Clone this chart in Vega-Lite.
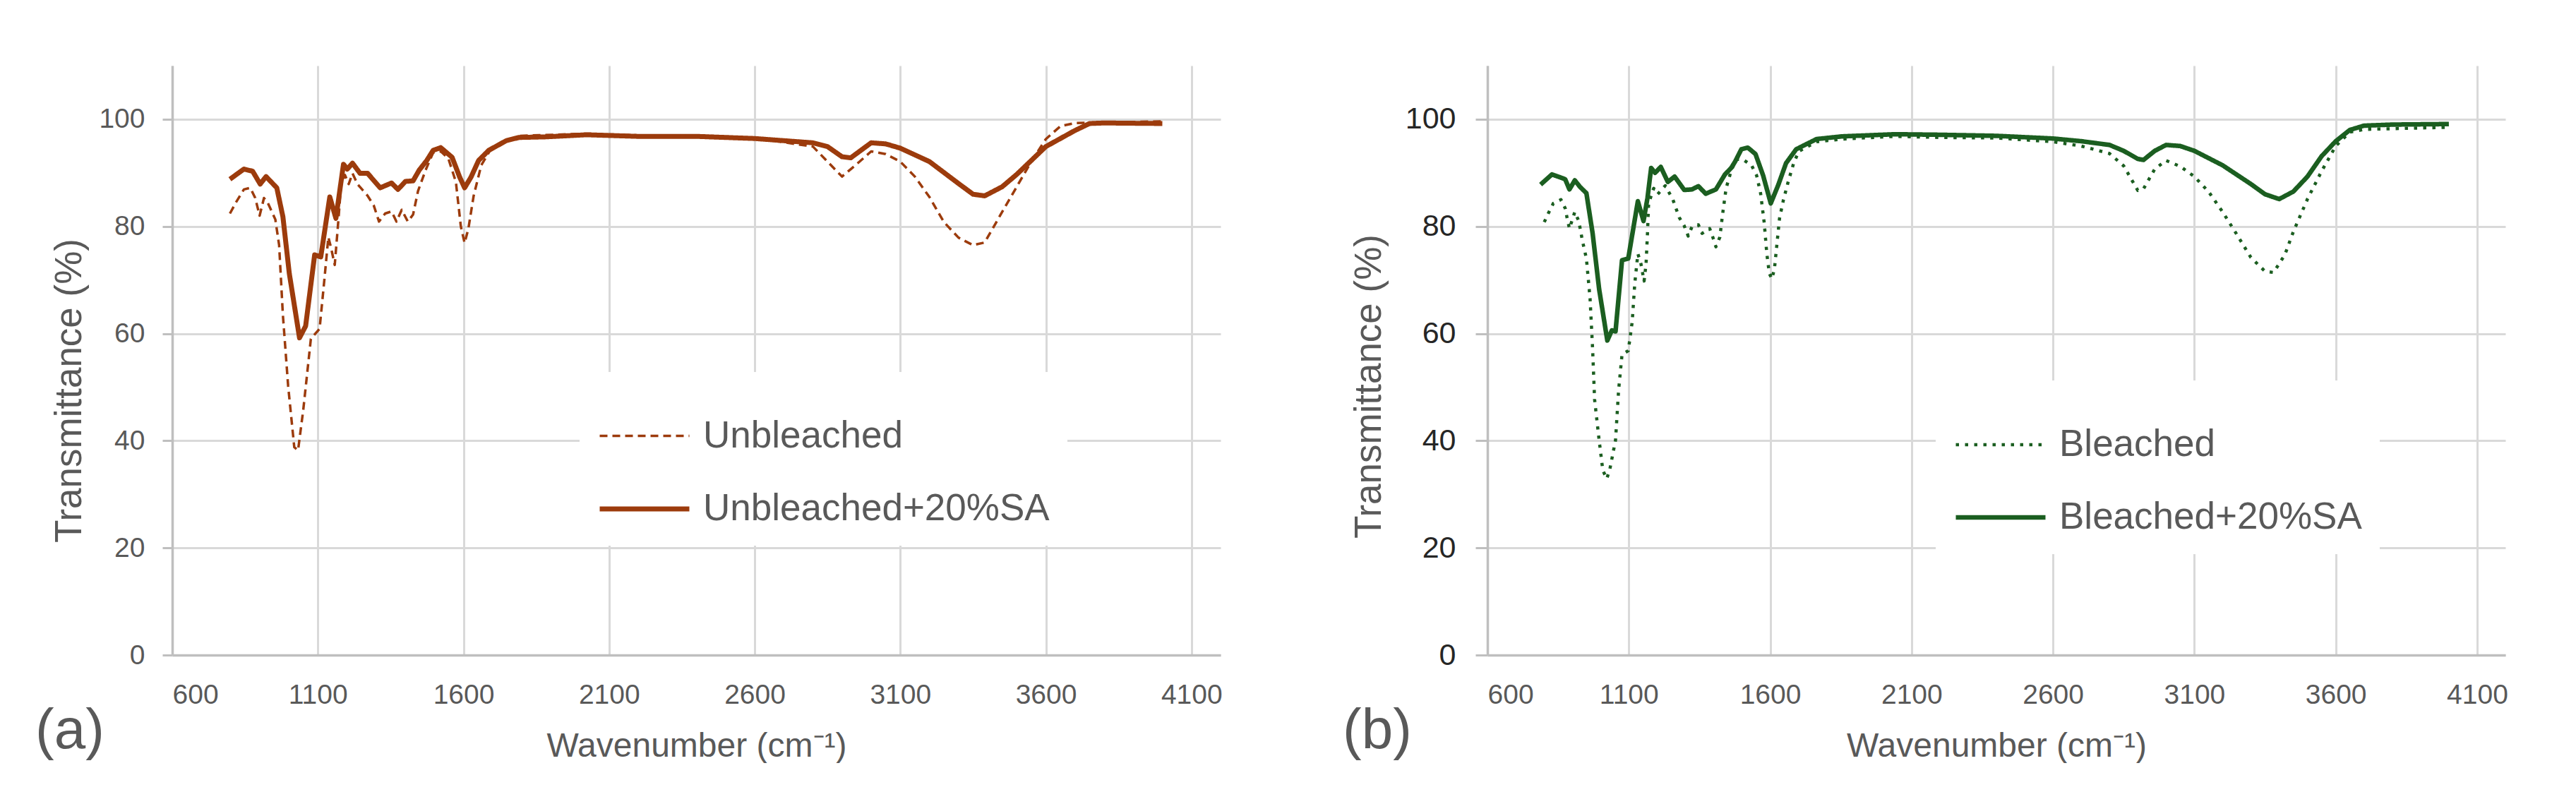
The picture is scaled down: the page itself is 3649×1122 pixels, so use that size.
{
  "$schema": "https://vega.github.io/schema/vega-lite/v6.json",
  "background": "white",
  "padding": {"left": 50, "top": 93, "right": 0, "bottom": 0},
  "autosize": {"type": "pad"},
  "spacing": 170,
  "resolve": {
    "scale": {"strokeDash": "independent", "strokeWidth": "independent"},
    "legend": {"strokeDash": "independent", "strokeWidth": "independent"}
  },
  "config": {
    "font": "Liberation Sans",
    "view": {"stroke": null},
    "axis": {
      "gridColor": "#d9d9d9",
      "gridWidth": 3,
      "domainColor": "#bfbfbf",
      "domainWidth": 3.5,
      "tickColor": "#bfbfbf",
      "tickWidth": 3,
      "labelColor": "#595959",
      "titleColor": "#595959",
      "labelFont": "Liberation Sans",
      "titleFont": "Liberation Sans",
      "titleFontWeight": "normal",
      "labelFontSize": 39,
      "format": "d"
    },
    "legend": {
      "labelFont": "Liberation Sans",
      "labelFontSize": 53,
      "labelColor": "#595959",
      "labelLimit": 0
    }
  },
  "datasets": {
    "a": [
      {"wn": 798, "T": 88.8, "series": "Unbleached+20%SA"},
      {"wn": 846, "T": 90.7, "series": "Unbleached+20%SA"},
      {"wn": 876, "T": 90.3, "series": "Unbleached+20%SA"},
      {"wn": 902, "T": 87.9, "series": "Unbleached+20%SA"},
      {"wn": 922, "T": 89.3, "series": "Unbleached+20%SA"},
      {"wn": 959, "T": 87.2, "series": "Unbleached+20%SA"},
      {"wn": 980, "T": 81.8, "series": "Unbleached+20%SA"},
      {"wn": 1002, "T": 71.2, "series": "Unbleached+20%SA"},
      {"wn": 1037, "T": 59.2, "series": "Unbleached+20%SA"},
      {"wn": 1058, "T": 61.4, "series": "Unbleached+20%SA"},
      {"wn": 1089, "T": 74.7, "series": "Unbleached+20%SA"},
      {"wn": 1110, "T": 74.3, "series": "Unbleached+20%SA"},
      {"wn": 1141, "T": 85.5, "series": "Unbleached+20%SA"},
      {"wn": 1162, "T": 81.5, "series": "Unbleached+20%SA"},
      {"wn": 1188, "T": 91.6, "series": "Unbleached+20%SA"},
      {"wn": 1201, "T": 90.7, "series": "Unbleached+20%SA"},
      {"wn": 1219, "T": 91.8, "series": "Unbleached+20%SA"},
      {"wn": 1245, "T": 89.9, "series": "Unbleached+20%SA"},
      {"wn": 1271, "T": 89.9, "series": "Unbleached+20%SA"},
      {"wn": 1314, "T": 87.2, "series": "Unbleached+20%SA"},
      {"wn": 1353, "T": 88.1, "series": "Unbleached+20%SA"},
      {"wn": 1375, "T": 86.9, "series": "Unbleached+20%SA"},
      {"wn": 1401, "T": 88.4, "series": "Unbleached+20%SA"},
      {"wn": 1427, "T": 88.5, "series": "Unbleached+20%SA"},
      {"wn": 1448, "T": 90.5, "series": "Unbleached+20%SA"},
      {"wn": 1474, "T": 92.3, "series": "Unbleached+20%SA"},
      {"wn": 1496, "T": 94.2, "series": "Unbleached+20%SA"},
      {"wn": 1522, "T": 94.7, "series": "Unbleached+20%SA"},
      {"wn": 1561, "T": 92.9, "series": "Unbleached+20%SA"},
      {"wn": 1587, "T": 89.2, "series": "Unbleached+20%SA"},
      {"wn": 1604, "T": 87.2, "series": "Unbleached+20%SA"},
      {"wn": 1626, "T": 89.2, "series": "Unbleached+20%SA"},
      {"wn": 1652, "T": 92.3, "series": "Unbleached+20%SA"},
      {"wn": 1687, "T": 94.2, "series": "Unbleached+20%SA"},
      {"wn": 1747, "T": 96.0, "series": "Unbleached+20%SA"},
      {"wn": 1791, "T": 96.6, "series": "Unbleached+20%SA"},
      {"wn": 1877, "T": 96.7, "series": "Unbleached+20%SA"},
      {"wn": 2023, "T": 97.1, "series": "Unbleached+20%SA"},
      {"wn": 2200, "T": 96.8, "series": "Unbleached+20%SA"},
      {"wn": 2400, "T": 96.8, "series": "Unbleached+20%SA"},
      {"wn": 2600, "T": 96.4, "series": "Unbleached+20%SA"},
      {"wn": 2700, "T": 96.0, "series": "Unbleached+20%SA"},
      {"wn": 2800, "T": 95.6, "series": "Unbleached+20%SA"},
      {"wn": 2850, "T": 94.9, "series": "Unbleached+20%SA"},
      {"wn": 2900, "T": 93.0, "series": "Unbleached+20%SA"},
      {"wn": 2930, "T": 92.8, "series": "Unbleached+20%SA"},
      {"wn": 2970, "T": 94.4, "series": "Unbleached+20%SA"},
      {"wn": 3000, "T": 95.6, "series": "Unbleached+20%SA"},
      {"wn": 3050, "T": 95.4, "series": "Unbleached+20%SA"},
      {"wn": 3100, "T": 94.6, "series": "Unbleached+20%SA"},
      {"wn": 3200, "T": 92.1, "series": "Unbleached+20%SA"},
      {"wn": 3300, "T": 88.0, "series": "Unbleached+20%SA"},
      {"wn": 3350, "T": 86.0, "series": "Unbleached+20%SA"},
      {"wn": 3390, "T": 85.7, "series": "Unbleached+20%SA"},
      {"wn": 3450, "T": 87.4, "series": "Unbleached+20%SA"},
      {"wn": 3500, "T": 89.7, "series": "Unbleached+20%SA"},
      {"wn": 3600, "T": 94.9, "series": "Unbleached+20%SA"},
      {"wn": 3700, "T": 97.9, "series": "Unbleached+20%SA"},
      {"wn": 3750, "T": 99.2, "series": "Unbleached+20%SA"},
      {"wn": 3800, "T": 99.3, "series": "Unbleached+20%SA"},
      {"wn": 4000, "T": 99.2, "series": "Unbleached+20%SA"},
      {"wn": 798, "T": 82.4, "series": "Unbleached"},
      {"wn": 820, "T": 84.6, "series": "Unbleached"},
      {"wn": 846, "T": 86.9, "series": "Unbleached"},
      {"wn": 868, "T": 87.2, "series": "Unbleached"},
      {"wn": 885, "T": 85.3, "series": "Unbleached"},
      {"wn": 900, "T": 82.0, "series": "Unbleached"},
      {"wn": 915, "T": 85.3, "series": "Unbleached"},
      {"wn": 928, "T": 84.4, "series": "Unbleached"},
      {"wn": 954, "T": 81.3, "series": "Unbleached"},
      {"wn": 967, "T": 76.5, "series": "Unbleached"},
      {"wn": 980, "T": 63.4, "series": "Unbleached"},
      {"wn": 998, "T": 50.2, "series": "Unbleached"},
      {"wn": 1019, "T": 38.8, "series": "Unbleached"},
      {"wn": 1032, "T": 38.2, "series": "Unbleached"},
      {"wn": 1050, "T": 45.8, "series": "Unbleached"},
      {"wn": 1076, "T": 59.0, "series": "Unbleached"},
      {"wn": 1106, "T": 60.9, "series": "Unbleached"},
      {"wn": 1123, "T": 70.4, "series": "Unbleached"},
      {"wn": 1136, "T": 78.0, "series": "Unbleached"},
      {"wn": 1145, "T": 76.1, "series": "Unbleached"},
      {"wn": 1158, "T": 72.8, "series": "Unbleached"},
      {"wn": 1171, "T": 81.5, "series": "Unbleached"},
      {"wn": 1180, "T": 87.9, "series": "Unbleached"},
      {"wn": 1193, "T": 89.6, "series": "Unbleached"},
      {"wn": 1206, "T": 87.9, "series": "Unbleached"},
      {"wn": 1219, "T": 89.9, "series": "Unbleached"},
      {"wn": 1236, "T": 87.9, "series": "Unbleached"},
      {"wn": 1271, "T": 85.7, "series": "Unbleached"},
      {"wn": 1292, "T": 83.9, "series": "Unbleached"},
      {"wn": 1310, "T": 80.9, "series": "Unbleached"},
      {"wn": 1331, "T": 82.4, "series": "Unbleached"},
      {"wn": 1353, "T": 82.8, "series": "Unbleached"},
      {"wn": 1370, "T": 80.9, "series": "Unbleached"},
      {"wn": 1388, "T": 83.1, "series": "Unbleached"},
      {"wn": 1409, "T": 80.9, "series": "Unbleached"},
      {"wn": 1427, "T": 82.2, "series": "Unbleached"},
      {"wn": 1444, "T": 86.6, "series": "Unbleached"},
      {"wn": 1470, "T": 90.5, "series": "Unbleached"},
      {"wn": 1496, "T": 93.8, "series": "Unbleached"},
      {"wn": 1522, "T": 94.0, "series": "Unbleached"},
      {"wn": 1548, "T": 92.7, "series": "Unbleached"},
      {"wn": 1574, "T": 88.3, "series": "Unbleached"},
      {"wn": 1591, "T": 80.0, "series": "Unbleached"},
      {"wn": 1604, "T": 76.9, "series": "Unbleached"},
      {"wn": 1617, "T": 79.6, "series": "Unbleached"},
      {"wn": 1635, "T": 85.7, "series": "Unbleached"},
      {"wn": 1661, "T": 91.4, "series": "Unbleached"},
      {"wn": 1695, "T": 94.5, "series": "Unbleached"},
      {"wn": 1747, "T": 96.0, "series": "Unbleached"},
      {"wn": 1791, "T": 96.9, "series": "Unbleached"},
      {"wn": 2023, "T": 97.3, "series": "Unbleached"},
      {"wn": 2200, "T": 97.0, "series": "Unbleached"},
      {"wn": 2400, "T": 97.0, "series": "Unbleached"},
      {"wn": 2600, "T": 96.5, "series": "Unbleached"},
      {"wn": 2700, "T": 95.7, "series": "Unbleached"},
      {"wn": 2800, "T": 94.9, "series": "Unbleached"},
      {"wn": 2850, "T": 92.1, "series": "Unbleached"},
      {"wn": 2900, "T": 89.3, "series": "Unbleached"},
      {"wn": 2950, "T": 91.6, "series": "Unbleached"},
      {"wn": 3000, "T": 94.0, "series": "Unbleached"},
      {"wn": 3050, "T": 93.5, "series": "Unbleached"},
      {"wn": 3100, "T": 92.1, "series": "Unbleached"},
      {"wn": 3150, "T": 89.3, "series": "Unbleached"},
      {"wn": 3200, "T": 85.5, "series": "Unbleached"},
      {"wn": 3250, "T": 80.8, "series": "Unbleached"},
      {"wn": 3300, "T": 77.9, "series": "Unbleached"},
      {"wn": 3350, "T": 76.5, "series": "Unbleached"},
      {"wn": 3390, "T": 77.0, "series": "Unbleached"},
      {"wn": 3450, "T": 82.7, "series": "Unbleached"},
      {"wn": 3500, "T": 87.4, "series": "Unbleached"},
      {"wn": 3550, "T": 92.1, "series": "Unbleached"},
      {"wn": 3600, "T": 96.3, "series": "Unbleached"},
      {"wn": 3650, "T": 98.7, "series": "Unbleached"},
      {"wn": 3700, "T": 99.3, "series": "Unbleached"},
      {"wn": 4000, "T": 99.6, "series": "Unbleached"}
    ],
    "b": [
      {"wn": 788, "T": 87.8, "series": "Bleached+20%SA"},
      {"wn": 828, "T": 89.7, "series": "Bleached+20%SA"},
      {"wn": 860, "T": 89.1, "series": "Bleached+20%SA"},
      {"wn": 875, "T": 88.8, "series": "Bleached+20%SA"},
      {"wn": 890, "T": 86.9, "series": "Bleached+20%SA"},
      {"wn": 909, "T": 88.6, "series": "Bleached+20%SA"},
      {"wn": 927, "T": 87.4, "series": "Bleached+20%SA"},
      {"wn": 950, "T": 86.2, "series": "Bleached+20%SA"},
      {"wn": 972, "T": 78.7, "series": "Bleached+20%SA"},
      {"wn": 995, "T": 68.3, "series": "Bleached+20%SA"},
      {"wn": 1024, "T": 58.7, "series": "Bleached+20%SA"},
      {"wn": 1040, "T": 60.6, "series": "Bleached+20%SA"},
      {"wn": 1053, "T": 60.4, "series": "Bleached+20%SA"},
      {"wn": 1076, "T": 73.7, "series": "Bleached+20%SA"},
      {"wn": 1098, "T": 74.0, "series": "Bleached+20%SA"},
      {"wn": 1132, "T": 84.7, "series": "Bleached+20%SA"},
      {"wn": 1152, "T": 81.0, "series": "Bleached+20%SA"},
      {"wn": 1166, "T": 85.3, "series": "Bleached+20%SA"},
      {"wn": 1179, "T": 90.9, "series": "Bleached+20%SA"},
      {"wn": 1193, "T": 90.0, "series": "Bleached+20%SA"},
      {"wn": 1213, "T": 91.1, "series": "Bleached+20%SA"},
      {"wn": 1238, "T": 88.3, "series": "Bleached+20%SA"},
      {"wn": 1262, "T": 89.3, "series": "Bleached+20%SA"},
      {"wn": 1296, "T": 86.8, "series": "Bleached+20%SA"},
      {"wn": 1323, "T": 86.9, "series": "Bleached+20%SA"},
      {"wn": 1346, "T": 87.5, "series": "Bleached+20%SA"},
      {"wn": 1372, "T": 86.1, "series": "Bleached+20%SA"},
      {"wn": 1408, "T": 86.9, "series": "Bleached+20%SA"},
      {"wn": 1440, "T": 89.7, "series": "Bleached+20%SA"},
      {"wn": 1462, "T": 90.9, "series": "Bleached+20%SA"},
      {"wn": 1476, "T": 92.1, "series": "Bleached+20%SA"},
      {"wn": 1498, "T": 94.4, "series": "Bleached+20%SA"},
      {"wn": 1521, "T": 94.7, "series": "Bleached+20%SA"},
      {"wn": 1548, "T": 93.5, "series": "Bleached+20%SA"},
      {"wn": 1575, "T": 89.5, "series": "Bleached+20%SA"},
      {"wn": 1602, "T": 84.3, "series": "Bleached+20%SA"},
      {"wn": 1629, "T": 87.8, "series": "Bleached+20%SA"},
      {"wn": 1656, "T": 91.8, "series": "Bleached+20%SA"},
      {"wn": 1692, "T": 94.4, "series": "Bleached+20%SA"},
      {"wn": 1764, "T": 96.3, "series": "Bleached+20%SA"},
      {"wn": 1854, "T": 96.8, "series": "Bleached+20%SA"},
      {"wn": 2042, "T": 97.2, "series": "Bleached+20%SA"},
      {"wn": 2200, "T": 97.1, "series": "Bleached+20%SA"},
      {"wn": 2400, "T": 96.9, "series": "Bleached+20%SA"},
      {"wn": 2600, "T": 96.4, "series": "Bleached+20%SA"},
      {"wn": 2700, "T": 95.9, "series": "Bleached+20%SA"},
      {"wn": 2800, "T": 95.2, "series": "Bleached+20%SA"},
      {"wn": 2850, "T": 94.1, "series": "Bleached+20%SA"},
      {"wn": 2900, "T": 92.6, "series": "Bleached+20%SA"},
      {"wn": 2920, "T": 92.4, "series": "Bleached+20%SA"},
      {"wn": 2960, "T": 94.1, "series": "Bleached+20%SA"},
      {"wn": 3000, "T": 95.2, "series": "Bleached+20%SA"},
      {"wn": 3050, "T": 95.0, "series": "Bleached+20%SA"},
      {"wn": 3100, "T": 94.1, "series": "Bleached+20%SA"},
      {"wn": 3200, "T": 91.4, "series": "Bleached+20%SA"},
      {"wn": 3300, "T": 87.9, "series": "Bleached+20%SA"},
      {"wn": 3350, "T": 86.0, "series": "Bleached+20%SA"},
      {"wn": 3400, "T": 85.1, "series": "Bleached+20%SA"},
      {"wn": 3450, "T": 86.5, "series": "Bleached+20%SA"},
      {"wn": 3500, "T": 89.3, "series": "Bleached+20%SA"},
      {"wn": 3550, "T": 93.1, "series": "Bleached+20%SA"},
      {"wn": 3600, "T": 95.9, "series": "Bleached+20%SA"},
      {"wn": 3650, "T": 98.0, "series": "Bleached+20%SA"},
      {"wn": 3700, "T": 98.8, "series": "Bleached+20%SA"},
      {"wn": 3800, "T": 99.0, "series": "Bleached+20%SA"},
      {"wn": 4000, "T": 99.1, "series": "Bleached+20%SA"},
      {"wn": 801, "T": 80.8, "series": "Bleached"},
      {"wn": 815, "T": 82.4, "series": "Bleached"},
      {"wn": 833, "T": 84.3, "series": "Bleached"},
      {"wn": 860, "T": 85.0, "series": "Bleached"},
      {"wn": 875, "T": 83.4, "series": "Bleached"},
      {"wn": 882, "T": 81.5, "series": "Bleached"},
      {"wn": 890, "T": 79.6, "series": "Bleached"},
      {"wn": 909, "T": 82.7, "series": "Bleached"},
      {"wn": 923, "T": 81.0, "series": "Bleached"},
      {"wn": 936, "T": 77.3, "series": "Bleached"},
      {"wn": 950, "T": 74.0, "series": "Bleached"},
      {"wn": 963, "T": 66.5, "series": "Bleached"},
      {"wn": 972, "T": 57.1, "series": "Bleached"},
      {"wn": 979, "T": 47.7, "series": "Bleached"},
      {"wn": 995, "T": 40.1, "series": "Bleached"},
      {"wn": 1008, "T": 34.5, "series": "Bleached"},
      {"wn": 1022, "T": 32.9, "series": "Bleached"},
      {"wn": 1033, "T": 34.7, "series": "Bleached"},
      {"wn": 1053, "T": 40.1, "series": "Bleached"},
      {"wn": 1064, "T": 49.5, "series": "Bleached"},
      {"wn": 1076, "T": 56.1, "series": "Bleached"},
      {"wn": 1098, "T": 56.8, "series": "Bleached"},
      {"wn": 1112, "T": 62.2, "series": "Bleached"},
      {"wn": 1121, "T": 69.3, "series": "Bleached"},
      {"wn": 1132, "T": 74.9, "series": "Bleached"},
      {"wn": 1143, "T": 73.0, "series": "Bleached"},
      {"wn": 1154, "T": 69.8, "series": "Bleached"},
      {"wn": 1161, "T": 73.0, "series": "Bleached"},
      {"wn": 1166, "T": 78.7, "series": "Bleached"},
      {"wn": 1170, "T": 84.3, "series": "Bleached"},
      {"wn": 1188, "T": 87.1, "series": "Bleached"},
      {"wn": 1202, "T": 86.0, "series": "Bleached"},
      {"wn": 1229, "T": 87.6, "series": "Bleached"},
      {"wn": 1256, "T": 85.0, "series": "Bleached"},
      {"wn": 1278, "T": 81.7, "series": "Bleached"},
      {"wn": 1296, "T": 80.1, "series": "Bleached"},
      {"wn": 1310, "T": 78.2, "series": "Bleached"},
      {"wn": 1323, "T": 79.9, "series": "Bleached"},
      {"wn": 1346, "T": 80.3, "series": "Bleached"},
      {"wn": 1359, "T": 78.7, "series": "Bleached"},
      {"wn": 1386, "T": 79.6, "series": "Bleached"},
      {"wn": 1399, "T": 77.7, "series": "Bleached"},
      {"wn": 1408, "T": 76.2, "series": "Bleached"},
      {"wn": 1422, "T": 78.0, "series": "Bleached"},
      {"wn": 1431, "T": 82.0, "series": "Bleached"},
      {"wn": 1444, "T": 87.1, "series": "Bleached"},
      {"wn": 1462, "T": 90.4, "series": "Bleached"},
      {"wn": 1480, "T": 92.5, "series": "Bleached"},
      {"wn": 1503, "T": 92.5, "series": "Bleached"},
      {"wn": 1534, "T": 91.4, "series": "Bleached"},
      {"wn": 1552, "T": 89.5, "series": "Bleached"},
      {"wn": 1566, "T": 86.2, "series": "Bleached"},
      {"wn": 1579, "T": 80.6, "series": "Bleached"},
      {"wn": 1588, "T": 74.9, "series": "Bleached"},
      {"wn": 1597, "T": 71.2, "series": "Bleached"},
      {"wn": 1606, "T": 70.2, "series": "Bleached"},
      {"wn": 1615, "T": 72.1, "series": "Bleached"},
      {"wn": 1624, "T": 76.8, "series": "Bleached"},
      {"wn": 1633, "T": 81.5, "series": "Bleached"},
      {"wn": 1647, "T": 85.0, "series": "Bleached"},
      {"wn": 1665, "T": 88.6, "series": "Bleached"},
      {"wn": 1683, "T": 91.8, "series": "Bleached"},
      {"wn": 1701, "T": 94.0, "series": "Bleached"},
      {"wn": 1764, "T": 95.8, "series": "Bleached"},
      {"wn": 1854, "T": 96.3, "series": "Bleached"},
      {"wn": 2042, "T": 96.8, "series": "Bleached"},
      {"wn": 2200, "T": 96.6, "series": "Bleached"},
      {"wn": 2400, "T": 96.5, "series": "Bleached"},
      {"wn": 2600, "T": 95.8, "series": "Bleached"},
      {"wn": 2700, "T": 95.0, "series": "Bleached"},
      {"wn": 2800, "T": 93.6, "series": "Bleached"},
      {"wn": 2850, "T": 91.3, "series": "Bleached"},
      {"wn": 2900, "T": 86.7, "series": "Bleached"},
      {"wn": 2920, "T": 87.0, "series": "Bleached"},
      {"wn": 2960, "T": 90.7, "series": "Bleached"},
      {"wn": 3000, "T": 92.3, "series": "Bleached"},
      {"wn": 3050, "T": 91.2, "series": "Bleached"},
      {"wn": 3100, "T": 89.3, "series": "Bleached"},
      {"wn": 3150, "T": 86.5, "series": "Bleached"},
      {"wn": 3200, "T": 82.7, "series": "Bleached"},
      {"wn": 3250, "T": 78.5, "series": "Bleached"},
      {"wn": 3300, "T": 74.2, "series": "Bleached"},
      {"wn": 3350, "T": 71.6, "series": "Bleached"},
      {"wn": 3380, "T": 71.4, "series": "Bleached"},
      {"wn": 3420, "T": 74.7, "series": "Bleached"},
      {"wn": 3450, "T": 79.0, "series": "Bleached"},
      {"wn": 3500, "T": 85.1, "series": "Bleached"},
      {"wn": 3550, "T": 90.3, "series": "Bleached"},
      {"wn": 3600, "T": 95.0, "series": "Bleached"},
      {"wn": 3650, "T": 97.6, "series": "Bleached"},
      {"wn": 3700, "T": 98.1, "series": "Bleached"},
      {"wn": 4000, "T": 98.5, "series": "Bleached"}
    ]
  },
  "hconcat": [
    {
      "width": 1485,
      "height": 835,
      "data": {"name": "a"},
      "title": {
        "text": "(a)",
        "orient": "bottom",
        "anchor": "start",
        "frame": "group",
        "align": "left",
        "fontSize": 80,
        "fontWeight": "normal",
        "font": "Liberation Sans",
        "color": "#595959",
        "dx": -194,
        "offset": -84
      },
      "mark": {"type": "line", "color": "#9c3b0c", "strokeJoin": "round"},
      "encoding": {
        "x": {
          "field": "wn",
          "type": "quantitative",
          "scale": {"domain": [600, 4200], "nice": false, "zero": false},
          "axis": {
            "values": [600, 1100, 1600, 2100, 2600, 3100, 3600, 4100],
            "format": "d",
            "title": "Wavenumber (cm⁻¹)",
            "titleFontSize": 48,
            "ticks": false,
            "labelPadding": 37,
            "titlePadding": 29
          }
        },
        "y": {
          "field": "T",
          "type": "quantitative",
          "scale": {"domain": [0, 110], "nice": false},
          "axis": {
            "values": [0, 20, 40, 60, 80, 100],
            "format": "d",
            "title": "Transmittance (%)",
            "titleFontSize": 53,
            "tickSize": 14,
            "labelPadding": 25,
            "titleAngle": -90,
            "titleX": -146,
            "titleY": 460,
            "titleAlign": "center",
            "titleBaseline": "middle"
          }
        },
        "strokeDash": {
          "field": "series",
          "type": "nominal",
          "scale": {"domain": ["Unbleached", "Unbleached+20%SA"], "range": [[11, 7], [1, 0]]},
          "legend": {
            "title": null, "orient": "none", "legendX": 577, "legendY": 434,
            "symbolType": "stroke", "symbolSize": 16129, "symbolStrokeColor": "#9c3b0c",
            "labelOffset": 16, "rowPadding": 9, "padding": 25, "fillColor": "white"
          }
        },
        "strokeWidth": {
          "field": "series",
          "type": "nominal",
          "scale": {"domain": ["Unbleached", "Unbleached+20%SA"], "range": [3.5, 7]},
          "legend": {
            "title": null, "orient": "none", "legendX": 577, "legendY": 434,
            "symbolType": "stroke", "symbolSize": 16129, "symbolStrokeColor": "#9c3b0c",
            "labelOffset": 16, "rowPadding": 9, "padding": 25, "fillColor": "white"
          }
        }
      }
    },
    {
      "width": 1442,
      "height": 835,
      "data": {"name": "b"},
      "title": {
        "text": "(b)",
        "orient": "bottom",
        "anchor": "start",
        "frame": "group",
        "align": "left",
        "fontSize": 80,
        "fontWeight": "normal",
        "font": "Liberation Sans",
        "color": "#595959",
        "dx": -205,
        "offset": -84
      },
      "mark": {"type": "line", "color": "#1b5e20", "strokeJoin": "round"},
      "encoding": {
        "x": {
          "field": "wn",
          "type": "quantitative",
          "scale": {"domain": [600, 4200], "nice": false, "zero": false},
          "axis": {
            "values": [600, 1100, 1600, 2100, 2600, 3100, 3600, 4100],
            "format": "d",
            "title": "Wavenumber (cm⁻¹)",
            "titleFontSize": 48,
            "ticks": false,
            "labelPadding": 37,
            "titlePadding": 29
          }
        },
        "y": {
          "field": "T",
          "type": "quantitative",
          "scale": {"domain": [0, 110], "nice": false},
          "axis": {
            "values": [0, 20, 40, 60, 80, 100],
            "format": "d",
            "title": "Transmittance (%)",
            "titleFontSize": 53,
            "labelFontSize": 43,
            "labelColor": "#262626",
            "tickSize": 17,
            "labelPadding": 28,
            "titleAngle": -90,
            "titleX": -168,
            "titleY": 454,
            "titleAlign": "center",
            "titleBaseline": "middle"
          }
        },
        "strokeDash": {
          "field": "series",
          "type": "nominal",
          "scale": {"domain": ["Bleached", "Bleached+20%SA"], "range": [[4.5, 8.5], [1, 0]]},
          "legend": {
            "title": null, "orient": "none", "legendX": 635, "legendY": 446,
            "symbolType": "stroke", "symbolSize": 16129, "symbolStrokeColor": "#1b5e20",
            "labelOffset": 16, "rowPadding": 9, "padding": 25, "fillColor": "white"
          }
        },
        "strokeWidth": {
          "field": "series",
          "type": "nominal",
          "scale": {"domain": ["Bleached", "Bleached+20%SA"], "range": [4.5, 6.5]},
          "legend": {
            "title": null, "orient": "none", "legendX": 635, "legendY": 446,
            "symbolType": "stroke", "symbolSize": 16129, "symbolStrokeColor": "#1b5e20",
            "labelOffset": 16, "rowPadding": 9, "padding": 25, "fillColor": "white"
          }
        }
      }
    }
  ]
}
